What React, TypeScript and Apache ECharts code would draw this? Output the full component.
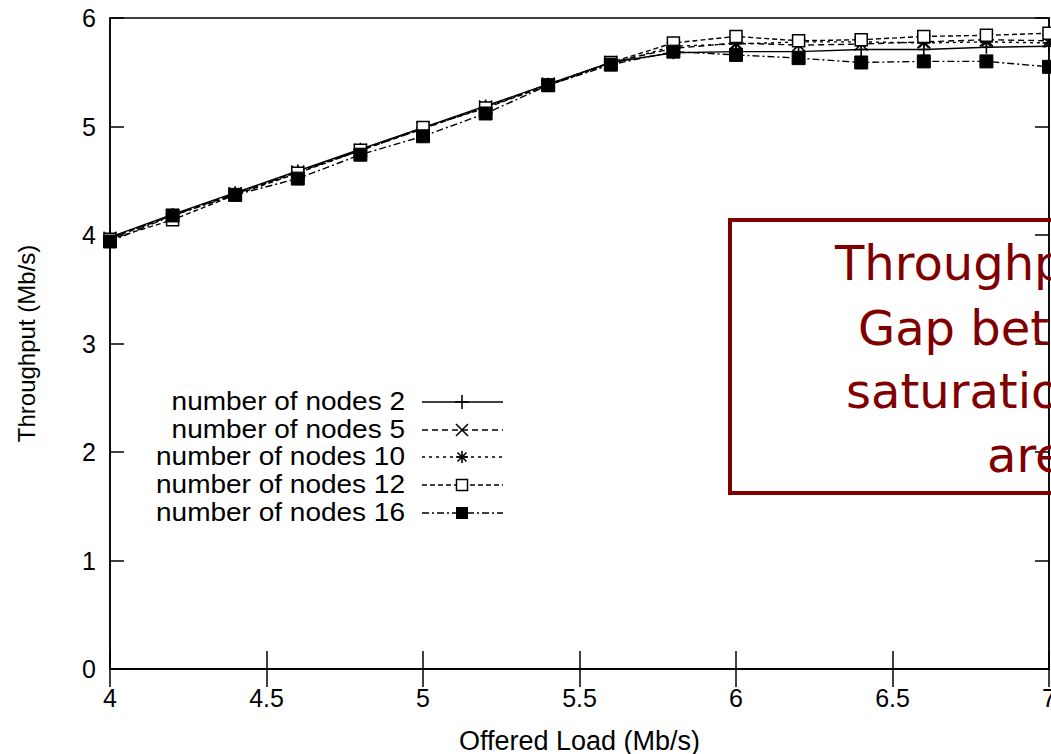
import React, { useEffect, useRef } from "react";
import * as echarts from "echarts";

// Offered load (Mb/s) on the x axis
const offeredLoad = [4.0, 4.2, 4.4, 4.6, 4.8, 5.0, 5.2, 5.4, 5.6, 5.8, 6.0, 6.2, 6.4, 6.6, 6.8, 7.0];

// Throughput (Mb/s) per number of nodes
const nodes2 = [3.98, 4.19, 4.39, 4.59, 4.79, 4.99, 5.19, 5.39, 5.59, 5.68, 5.69, 5.69, 5.71, 5.71, 5.73, 5.74];
const nodes5 = [3.97, 4.18, 4.38, 4.58, 4.78, 4.98, 5.18, 5.39, 5.59, 5.72, 5.77, 5.75, 5.76, 5.78, 5.8, 5.79];
const nodes10 = [3.97, 4.18, 4.38, 4.58, 4.78, 4.98, 5.18, 5.38, 5.58, 5.74, 5.76, 5.78, 5.78, 5.77, 5.78, 5.77];
const nodes12 = [3.96, 4.14, 4.37, 4.57, 4.78, 4.99, 5.17, 5.38, 5.59, 5.77, 5.83, 5.79, 5.8, 5.83, 5.84, 5.86];
const nodes16 = [3.94, 4.18, 4.37, 4.52, 4.74, 4.91, 5.12, 5.38, 5.57, 5.69, 5.66, 5.63, 5.59, 5.6, 5.6, 5.55];

const seriesNames = [
  "number of nodes 2",
  "number of nodes 5",
  "number of nodes 10",
  "number of nodes 12",
  "number of nodes 16",
];
const seriesValues = [nodes2, nodes5, nodes10, nodes12, nodes16];
const markerKinds = ["plus", "cross", "star", "openSquare", "filledSquare"];
const dashPatterns: (number[] | null)[] = [null, [6, 4], [3, 4], [5, 3], [7, 3, 2, 3]];

const noteLines = ["Throughput", "Gap between", "saturation", "area"];

const WIDTH = 1051;
const HEIGHT = 754;
const FONT = "'Liberation Sans', Arial, Helvetica, sans-serif";
const NOTE_FONT = "'Comic Sans MS', 'DejaVu Sans', sans-serif";
const NOTE_COLOR = "#800000";

const symbolFor = (kind: string) => {
  switch (kind) {
    case "plus":
      return "path://M0,5L10,5M5,0L5,10";
    case "cross":
      return "path://M0,0L10,10M10,0L0,10";
    case "star":
      return "path://M0,5L10,5M5,0L5,10M1.5,1.5L8.5,8.5M8.5,1.5L1.5,8.5";
    default:
      return "rect";
  }
};

const markerStyle = (kind: string) => {
  if (kind === "filledSquare") return { color: "#000", borderColor: "#000", borderWidth: 1 };
  if (kind === "openSquare") return { color: "#fff", borderColor: "#000", borderWidth: 1.5 };
  return { color: "transparent", borderColor: "#000", borderWidth: 1.6 };
};

// Legend sample marker drawn with plain graphic shapes
const legendMarker = (kind: string, cx: number, cy: number) => {
  const s = 6;
  const stroke = { stroke: "#000", lineWidth: 1.6 };
  const seg = (x1: number, y1: number, x2: number, y2: number) => ({
    type: "line",
    shape: { x1, y1, x2, y2 },
    style: stroke,
  });
  if (kind === "plus") return [seg(cx - s - 1, cy, cx + s + 1, cy), seg(cx, cy - s - 1, cx, cy + s + 1)];
  if (kind === "cross") return [seg(cx - s, cy - s, cx + s, cy + s), seg(cx + s, cy - s, cx - s, cy + s)];
  if (kind === "star")
    return [
      seg(cx - s, cy, cx + s, cy),
      seg(cx, cy - s, cx, cy + s),
      seg(cx - s * 0.75, cy - s * 0.75, cx + s * 0.75, cy + s * 0.75),
      seg(cx + s * 0.75, cy - s * 0.75, cx - s * 0.75, cy + s * 0.75),
    ];
  if (kind === "openSquare")
    return [
      {
        type: "rect",
        shape: { x: cx - 5.5, y: cy - 5.5, width: 11, height: 11 },
        style: { fill: "#fff", stroke: "#000", lineWidth: 1.5 },
      },
    ];
  return [
    {
      type: "rect",
      shape: { x: cx - 6, y: cy - 6, width: 12, height: 12 },
      style: { fill: "#000" },
    },
  ];
};

export default function App() {
  const ref = useRef<HTMLDivElement>(null);

  useEffect(() => {
    if (!ref.current) return;
    const chart = echarts.init(ref.current, null, { renderer: "svg", width: WIDTH, height: HEIGHT });

    const series = seriesNames.map((name, i) => ({
      name,
      type: "line",
      data: offeredLoad.map((x, j) => [x, seriesValues[i][j]]),
      xAxisIndex: 0,
      yAxisIndex: 0,
      symbol: symbolFor(markerKinds[i]),
      symbolSize: markerKinds[i] === "openSquare" ? 12 : 13,
      symbolKeepAspect: true,
      showAllSymbol: true,
      lineStyle: {
        color: "#000",
        width: 1.4,
        type: dashPatterns[i] ? dashPatterns[i] : "solid",
      },
      itemStyle: markerStyle(markerKinds[i]),
      emphasis: { disabled: true },
      z: 2 + i,
    }));

    // Legend rows
    const rowY = [402, 430, 457, 485, 513];
    const legendElements: any[] = [];
    seriesNames.forEach((name, i) => {
      const y = rowY[i];
      legendElements.push({
        type: "text",
        x: 405,
        y,
        scaleX: 1.12,
        style: {
          text: name,
          align: "right",
          verticalAlign: "middle",
          font: `25px ${FONT}`,
          fill: "#000",
        },
      });
      legendElements.push({
        type: "line",
        shape: { x1: 422, y1: y, x2: 503, y2: y },
        style: {
          stroke: "#000",
          lineWidth: 1.4,
          lineDash: dashPatterns[i] ? dashPatterns[i] : null,
        },
      });
      legendElements.push(...legendMarker(markerKinds[i], 462, y));
    });

    // Annotation box with its text
    const noteX = [835, 858, 846, 987];
    const noteY = [263, 328, 391, 455];
    const noteElements: any[] = [
      {
        type: "rect",
        shape: { x: 730, y: 220, width: 420, height: 273 },
        style: { fill: "none", stroke: NOTE_COLOR, lineWidth: 4 },
        z: 100,
      },
      ...noteLines.map((line, i) => ({
        type: "text",
        x: noteX[i],
        y: noteY[i],
        z: 100,
        style: {
          text: line,
          align: "left",
          verticalAlign: "middle",
          font: `48px ${NOTE_FONT}`,
          fill: NOTE_COLOR,
        },
      })),
    ];

    const axisCommon = {
      type: "value" as const,
      axisLine: { show: true, lineStyle: { color: "#000", width: 1.5 } },
      splitLine: { show: false },
    };

    chart.setOption({
      animation: false,
      backgroundColor: "#fff",
      grid: {
        left: 110,
        right: 2,
        top: 18,
        bottom: 85,
        containLabel: false,
        outerBoundsMode: "none",
        show: true,
        borderColor: "#000",
        borderWidth: 1.5,
        backgroundColor: "transparent",
      },
      xAxis: [
        {
          ...axisCommon,
          position: "bottom",
          min: 4,
          max: 7,
          interval: 0.5,
          name: "Offered Load (Mb/s)",
          nameLocation: "middle",
          nameGap: 58,
          nameTextStyle: { fontFamily: FONT, fontSize: 27, color: "#000" },
          axisTick: { show: true, inside: true, length: 18, lineStyle: { color: "#000", width: 1.5 } },
          axisLabel: { fontFamily: FONT, fontSize: 25, color: "#000", margin: 16 },
        },
        {
          ...axisCommon,
          position: "top",
          min: 4,
          max: 7,
          interval: 0.5,
          axisTick: { show: true, inside: true, length: 18, lineStyle: { color: "#000", width: 1.5 } },
          axisLabel: { show: false },
        },
      ],
      yAxis: [
        {
          ...axisCommon,
          position: "left",
          min: 0,
          max: 6,
          interval: 1,
          name: "Throughput (Mb/s)",
          nameLocation: "middle",
          nameGap: 72,
          nameTextStyle: { fontFamily: FONT, fontSize: 24, color: "#000" },
          axisTick: { show: true, inside: true, length: 14, lineStyle: { color: "#000", width: 1.5 } },
          axisLabel: { fontFamily: FONT, fontSize: 25, color: "#000", margin: 14 },
        },
        {
          ...axisCommon,
          position: "right",
          min: 0,
          max: 6,
          interval: 1,
          axisTick: { show: true, inside: true, length: 14, lineStyle: { color: "#000", width: 1.5 } },
          axisLabel: { show: false },
        },
      ],
      series,
      graphic: [...legendElements, ...noteElements],
    });

    return () => chart.dispose();
  }, []);

  return (
    <div
      ref={ref}
      style={{
        position: "absolute",
        left: 0,
        top: 0,
        width: WIDTH,
        height: HEIGHT,
        overflow: "hidden",
        background: "#fff",
      }}
    />
  );
}
